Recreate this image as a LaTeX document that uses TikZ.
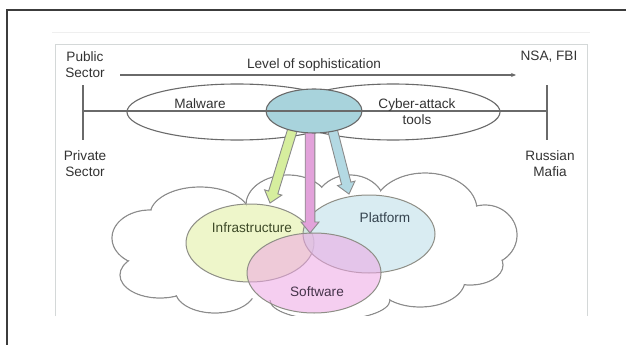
\documentclass[tikz,border=0pt]{standalone}
\usepackage{fontspec}
\setmainfont{Liberation Sans}
\usetikzlibrary{shapes.geometric,calc,arrows.meta}
\definecolor{framec}{HTML}{3C3C3C}
\definecolor{innerc}{HTML}{D4D8D8}
\definecolor{faintc}{HTML}{EFEFEF}
\definecolor{linec}{HTML}{6A6A6A}
\definecolor{txtc}{HTML}{333333}
\definecolor{cloudc}{HTML}{8C8C8C}
\definecolor{corec}{HTML}{A8D3DC}
\definecolor{greena}{HTML}{D6EE9E}
\definecolor{pinka}{HTML}{E2A2DA}
\definecolor{bluea}{HTML}{B3D9E3}
\definecolor{arrowc}{HTML}{8A8A8A}
\definecolor{infraf}{HTML}{E3F0A8}
\definecolor{platf}{HTML}{C5E2EC}
\definecolor{softf}{HTML}{EEA6E4}
\definecolor{vennc}{HTML}{8E8E86}
\definecolor{infrat}{HTML}{3E4A28}
\definecolor{platt}{HTML}{34424E}
\definecolor{softt}{HTML}{45344A}
\newcommand\fatarrow[3]{%
  \coordinate (#1#2h) at ($(#2)!11pt!(#1)$);
  \draw[draw=arrowc, line width=0.9pt, fill=#3, line join=miter]
    ($(#1)!4.8pt!90:(#2)$) -- ($(#1#2h)!4.8pt!90:(#2)$) --
    ($(#1#2h)!9pt!90:(#2)$) -- (#2) -- ($(#1#2h)!9pt!270:(#2)$) --
    ($(#1#2h)!4.8pt!270:(#2)$) -- ($(#1)!4.8pt!270:(#2)$) -- cycle;}
\begin{document}
\begin{tikzpicture}[x=1pt,y=-1pt,
  lbl/.style={text=txtc, inner sep=0pt, align=center, font=\fontsize{13.6}{16}\selectfont},
  rule/.style={draw=linec, line width=1.1pt},
  ring/.style={ellipse, draw=linec, line width=1.1pt, inner sep=0pt},
  venn/.style={ellipse, draw=vennc, line width=1pt, inner sep=0pt},
  cloudline/.style={draw=cloudc, line width=1.2pt, fill=white}]
\useasboundingbox (0,0) rectangle (626,345);
\fill[white] (0,0) rectangle (626,345);
% frames
\draw[framec, line width=2.2pt] (7,346) -- (7,10) -- (627,10);
\draw[faintc, line width=0.8pt] (52,32) -- (590,32);
\draw[innerc, line width=0.9pt] (55,316) -- (55,44) -- (587,44) -- (587,316);
% top labels and scale
\node[lbl] (pub) at (85,65) {Public\\Sector};
\node[lbl] (nsa) at (549,57) {NSA, FBI};
\node[lbl] (lev) at (314,65) {Level of sophistication};
\coordinate (soA) at (120,75);
\coordinate (soB) at (516,75);
\draw[rule, -{Stealth[length=5pt,width=4pt]}] (soA) -- (soB);
\coordinate (lt) at (83,85); \coordinate (lb) at (83,140); \coordinate (lm) at (83,111);
\coordinate (rt) at (547,85); \coordinate (rb) at (547,140); \coordinate (rm) at (547,111);
\draw[rule] (lt) -- (lb);
\draw[rule] (rt) -- (rb);
\draw[rule] (lm) -- (rm);
\node[lbl] (priv) at (85,164) {Private\\Sector};
\node[lbl] (rus) at (550,164) {Russian\\Mafia};
% malware / cyber-attack ellipses
\node[ring, minimum width=220pt, minimum height=56pt] (mal) at (237,112) {};
\node[ring, minimum width=214pt, minimum height=56pt] (cyb) at (393,112) {};
\node[lbl] (malt) at (200,104) {Malware};
\node[lbl] (cybt) at (417,112) {Cyber-attack\\tools};
% cloud and venn
\begin{scope}
\clip (55,44) rectangle (587,315);
\foreach \cx/\cy/\rx/\ry in {200/215/50/28, 288/205/42/30, 350/205/35/30, 425/210/52/37,
  485/235/32/30, 470/265/33/20, 420/280/45/27, 150/238/38/28, 160/275/40/23,
  215/290/40/23, 330/300/60/20}
  {\draw[cloudline] (\cx,\cy) ellipse (\rx pt and \ry pt);}
\foreach \cx/\cy/\rx/\ry in {200/215/50/28, 288/205/42/30, 350/205/35/30, 425/210/52/37,
  485/235/32/30, 470/265/33/20, 420/280/45/27, 150/238/38/28, 160/275/40/23,
  215/290/40/23, 330/300/60/20}
  {\fill[white] (\cx,\cy) ellipse (\rx pt-0.9pt and \ry pt-0.9pt);}
\fill[white] (315,252) ellipse (165pt and 50pt);
\node[venn, fill=infraf, fill opacity=0.6, text opacity=1, minimum width=128pt, minimum height=78pt] (infra) at (250,243) {};
\node[venn, fill=platf, fill opacity=0.65, text opacity=1, minimum width=132pt, minimum height=78pt] (plat) at (369,234) {};
\node[venn, fill=softf, fill opacity=0.55, text opacity=1, minimum width=134pt, minimum height=80pt] (soft) at (314,273) {};
\node[lbl, text=infrat] (infratx) at (252,228) {Infrastructure};
\node[lbl, text=platt] (plattx) at (385,218) {Platform};
\node[lbl, text=softt] (softtx) at (317,292) {Software};
% arrows
\coordinate (g1) at (293,128); \coordinate (g2) at (270,203);
\coordinate (p1) at (310,128); \coordinate (p2) at (310,233);
\coordinate (b1) at (332,128); \coordinate (b2) at (349,194);
\fatarrow{g1}{g2}{greena}
\fatarrow{b1}{b2}{bluea}
\fatarrow{p1}{p2}{pinka}
\end{scope}
% core ellipse
\node[ellipse, fill=corec, inner sep=0pt, minimum width=96pt, minimum height=44pt] (core) at (314,111) {};
\begin{scope}
\clip (core.center) ellipse (48pt and 22pt);
\draw[rule] (lm) -- (rm);
\end{scope}
\node[ellipse, draw=linec, line width=1.1pt, inner sep=0pt, minimum width=96pt, minimum height=44pt] at (core.center) {};
\end{tikzpicture}
\end{document}
